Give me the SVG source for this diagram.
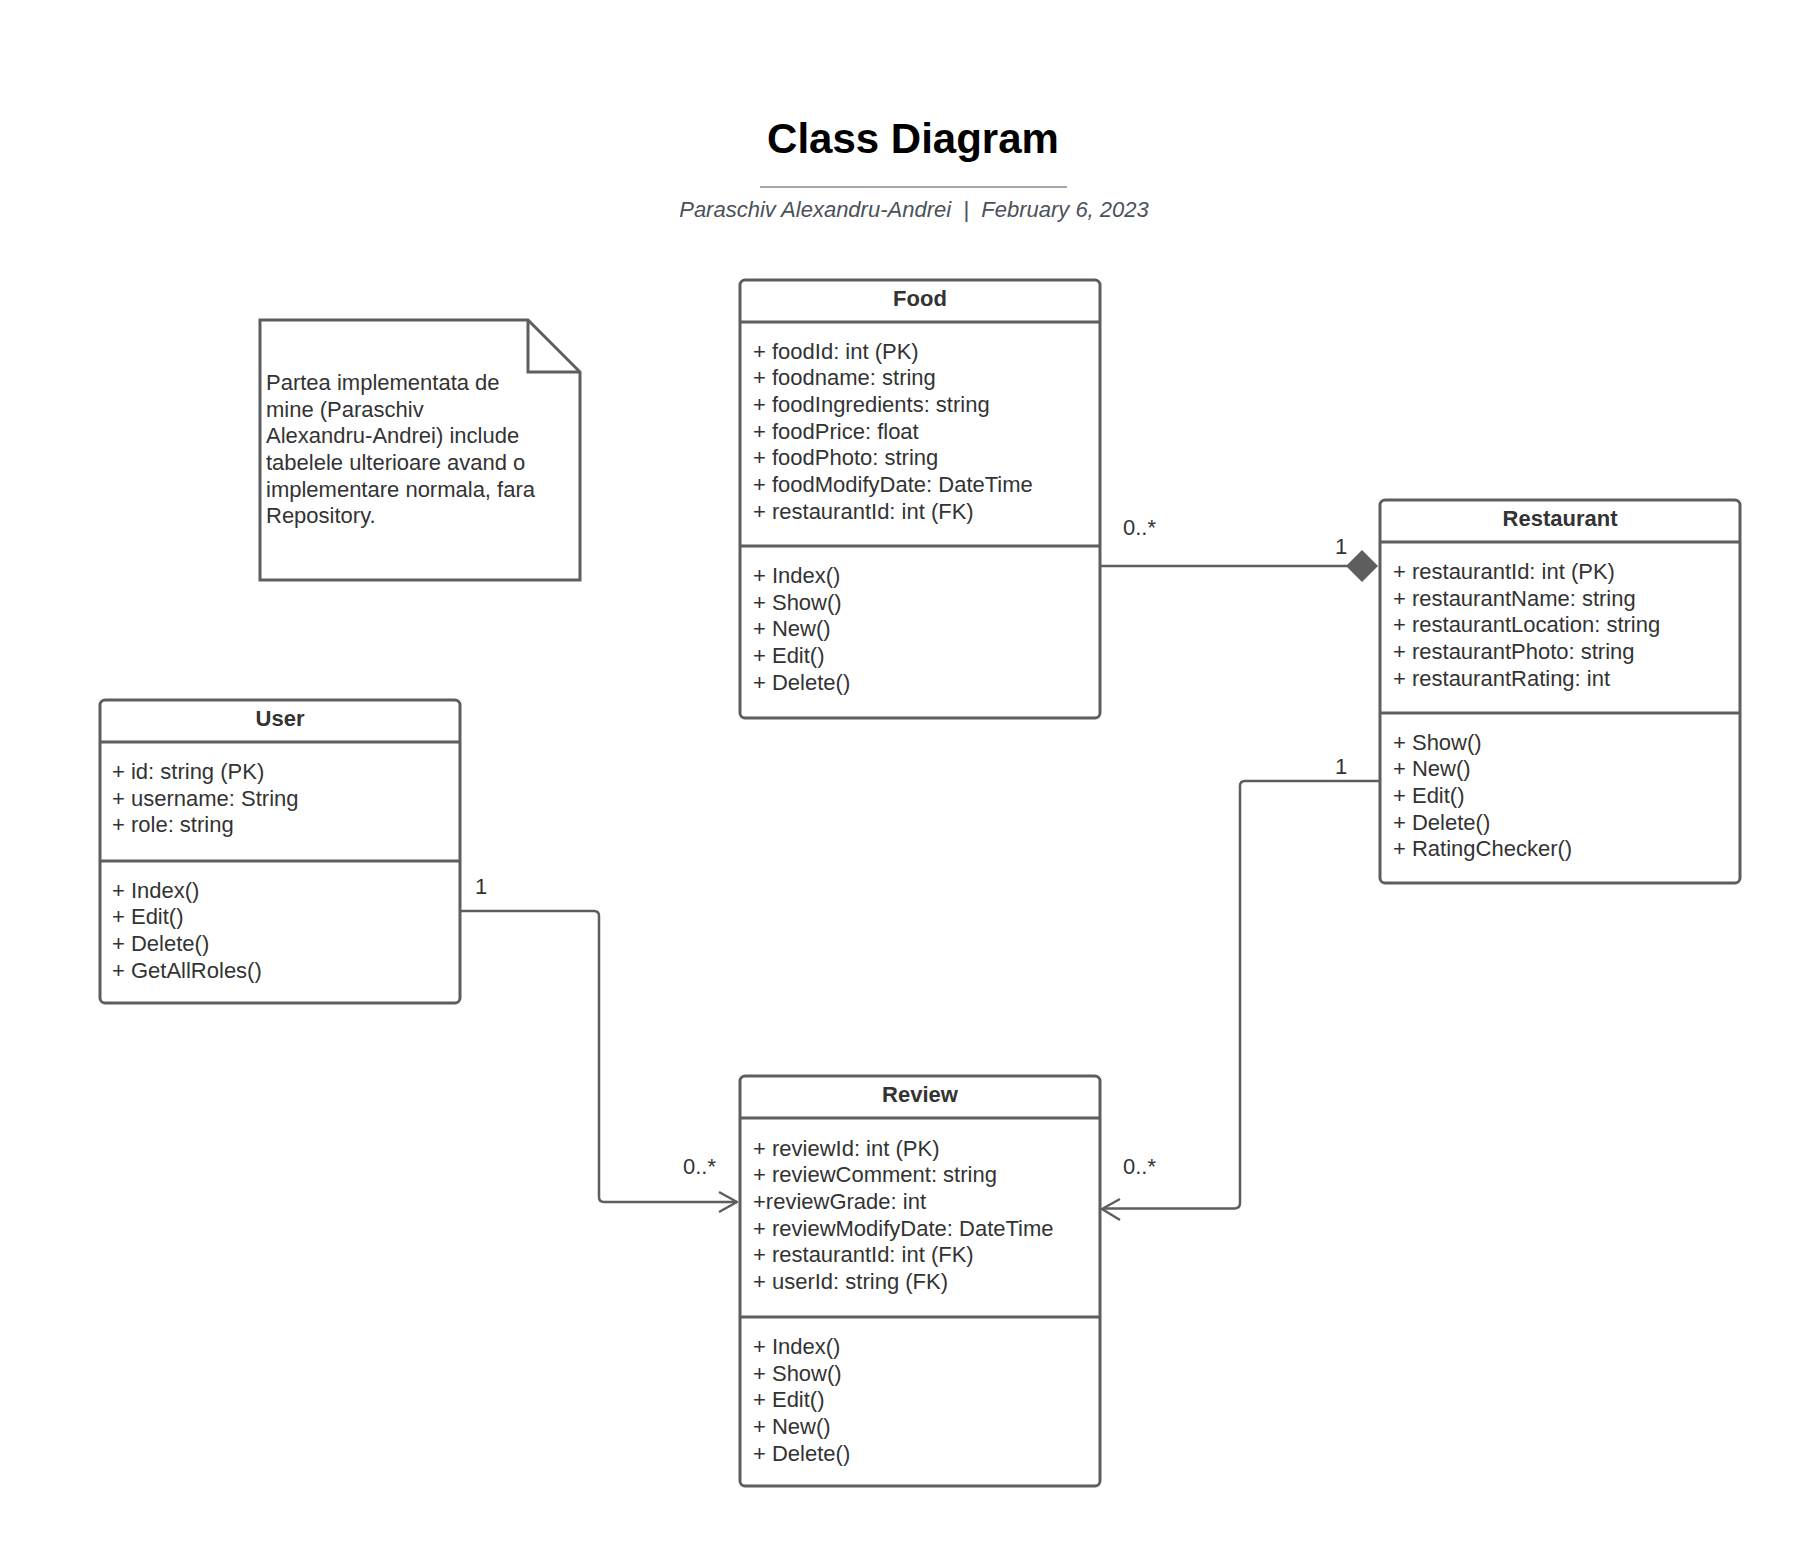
<svg xmlns="http://www.w3.org/2000/svg" width="1820" height="1543" viewBox="0 0 1820 1543">
<style>
.box{fill:#ffffff;stroke:#5e5e5e;stroke-width:3}
.div{stroke:#5e5e5e;stroke-width:3}
.t{font-family:"Liberation Sans",Arial,sans-serif;font-size:22px;fill:#333333}
.h{font-family:"Liberation Sans",Arial,sans-serif;font-size:22px;font-weight:bold;fill:#333333}
.conn{fill:none;stroke:#5e5e5e;stroke-width:2.5;stroke-linejoin:round}
.lbl{font-family:"Liberation Sans",Arial,sans-serif;font-size:22px;fill:#333333}
</style>
<rect width="1820" height="1543" fill="#ffffff"/>
<g id="header">
<text x="913" y="153" text-anchor="middle" font-family="Liberation Sans, Arial, sans-serif" font-size="42" font-weight="bold" fill="#000000">Class Diagram</text>
<line x1="760" y1="187" x2="1067" y2="187" stroke="#a3a7b0" stroke-width="2"/>
<text x="914" y="217" text-anchor="middle" font-family="Liberation Sans, Arial, sans-serif" font-size="22" font-style="italic" fill="#4b505a">Paraschiv Alexandru-Andrei&#160;&#160;|&#160;&#160;February 6, 2023</text>
</g>
<g id="note">
<path d="M260,320 H528 L580,372 V580 H260 Z" fill="#ffffff" stroke="#5e5e5e" stroke-width="3"/>
<path d="M528,320 V372 H580" fill="none" stroke="#5e5e5e" stroke-width="3"/>
<text class="t"><tspan x="266" y="390">Partea implementata de</tspan><tspan x="266" y="416.7">mine (Paraschiv</tspan><tspan x="266" y="443.3">Alexandru-Andrei) include</tspan><tspan x="266" y="470">tabelele ulterioare avand o</tspan><tspan x="266" y="496.7">implementare normala, fara</tspan><tspan x="266" y="523.3">Repository.</tspan></text>
</g>
<g id="food">
<rect class="box" x="740" y="280" width="360" height="438" rx="5"/>
<line class="div" x1="740" y1="322" x2="1100" y2="322"/>
<line class="div" x1="740" y1="546" x2="1100" y2="546"/>
<text class="h" x="920" y="306" text-anchor="middle">Food</text>
<text class="t"><tspan x="753" y="358.5">+ foodId: int (PK)</tspan><tspan x="753" y="385.2">+ foodname: string</tspan><tspan x="753" y="411.8">+ foodIngredients: string</tspan><tspan x="753" y="438.5">+ foodPrice: float</tspan><tspan x="753" y="465.2">+ foodPhoto: string</tspan><tspan x="753" y="491.8">+ foodModifyDate: DateTime</tspan><tspan x="753" y="518.5">+ restaurantId: int (FK)</tspan></text>
<text class="t"><tspan x="753" y="583">+ Index()</tspan><tspan x="753" y="609.7">+ Show()</tspan><tspan x="753" y="636.3">+ New()</tspan><tspan x="753" y="663">+ Edit()</tspan><tspan x="753" y="689.7">+ Delete()</tspan></text>
</g>
<g id="restaurant">
<rect class="box" x="1380" y="500" width="360" height="383" rx="5"/>
<line class="div" x1="1380" y1="542" x2="1740" y2="542"/>
<line class="div" x1="1380" y1="713" x2="1740" y2="713"/>
<text class="h" x="1560" y="526" text-anchor="middle">Restaurant</text>
<text class="t"><tspan x="1393" y="579">+ restaurantId: int (PK)</tspan><tspan x="1393" y="605.7">+ restaurantName: string</tspan><tspan x="1393" y="632.3">+ restaurantLocation: string</tspan><tspan x="1393" y="659">+ restaurantPhoto: string</tspan><tspan x="1393" y="685.7">+ restaurantRating: int</tspan></text>
<text class="t"><tspan x="1393" y="749.5">+ Show()</tspan><tspan x="1393" y="776.2">+ New()</tspan><tspan x="1393" y="802.8">+ Edit()</tspan><tspan x="1393" y="829.5">+ Delete()</tspan><tspan x="1393" y="856.2">+ RatingChecker()</tspan></text>
</g>
<g id="user">
<rect class="box" x="100" y="700" width="360" height="303" rx="5"/>
<line class="div" x1="100" y1="742" x2="460" y2="742"/>
<line class="div" x1="100" y1="861" x2="460" y2="861"/>
<text class="h" x="280" y="726" text-anchor="middle">User</text>
<text class="t"><tspan x="112" y="779">+ id: string (PK)</tspan><tspan x="112" y="805.7">+ username: String</tspan><tspan x="112" y="832.3">+ role: string</tspan></text>
<text class="t"><tspan x="112" y="897.5">+ Index()</tspan><tspan x="112" y="924.2">+ Edit()</tspan><tspan x="112" y="950.8">+ Delete()</tspan><tspan x="112" y="977.5">+ GetAllRoles()</tspan></text>
</g>
<g id="review">
<rect class="box" x="740" y="1076" width="360" height="410" rx="5"/>
<line class="div" x1="740" y1="1118" x2="1100" y2="1118"/>
<line class="div" x1="740" y1="1317" x2="1100" y2="1317"/>
<text class="h" x="920" y="1102" text-anchor="middle">Review</text>
<text class="t"><tspan x="753" y="1155.5">+ reviewId: int (PK)</tspan><tspan x="753" y="1182.2">+ reviewComment: string</tspan><tspan x="753" y="1208.8">+reviewGrade: int</tspan><tspan x="753" y="1235.5">+ reviewModifyDate: DateTime</tspan><tspan x="753" y="1262.2">+ restaurantId: int (FK)</tspan><tspan x="753" y="1288.8">+ userId: string (FK)</tspan></text>
<text class="t"><tspan x="753" y="1354">+ Index()</tspan><tspan x="753" y="1380.7">+ Show()</tspan><tspan x="753" y="1407.3">+ Edit()</tspan><tspan x="753" y="1434">+ New()</tspan><tspan x="753" y="1460.7">+ Delete()</tspan></text>
</g>
<g id="connectors">
<path class="conn" d="M1101,566 H1347"/>
<path d="M1346,566 L1362,550 L1378,566 L1362,582 Z" fill="#5e5e5e"/>
<text class="lbl" x="1123" y="535">0..*</text>
<text class="lbl" x="1335" y="554">1</text>
<path class="conn" d="M1380,781 H1245 Q1240,781 1240,786 V1203 Q1240,1208 1235,1208.5 H1103"/>
<path class="conn" d="M1120,1199 L1102,1209 L1120,1220"/>
<text class="lbl" x="1335" y="774">1</text>
<text class="lbl" x="1123" y="1174">0..*</text>
<path class="conn" d="M461,911 H594 Q599,911 599,916 V1197 Q599,1202 604,1202 H737"/>
<path class="conn" d="M719,1192 L737,1202 L719,1212"/>
<text class="lbl" x="475" y="894">1</text>
<text class="lbl" x="683" y="1174">0..*</text>
</g>
</svg>
